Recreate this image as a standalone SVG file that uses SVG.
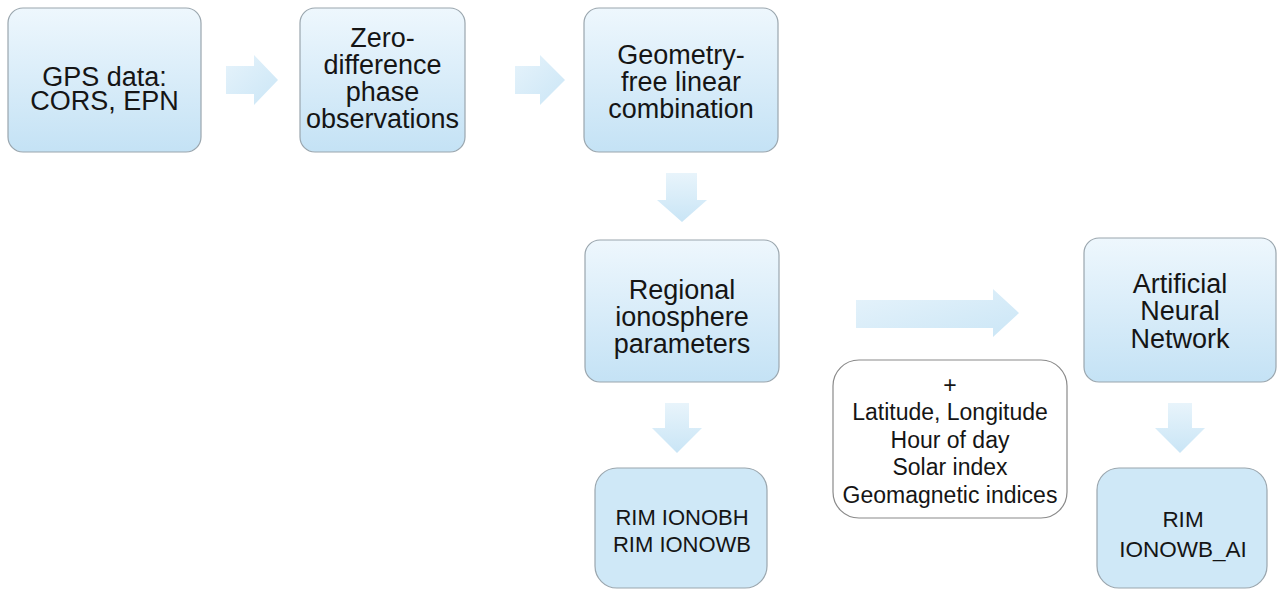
<svg xmlns="http://www.w3.org/2000/svg" width="1277" height="590" viewBox="0 0 1277 590">
  <defs>
    <linearGradient id="gBox" x1="0" y1="0" x2="0" y2="1">
      <stop offset="0" stop-color="#eef7fd"/>
      <stop offset="1" stop-color="#c4e2f5"/>
    </linearGradient>
    <linearGradient id="gArr" x1="0" y1="0" x2="0" y2="1">
      <stop offset="0" stop-color="#e8f4fb"/>
      <stop offset="1" stop-color="#c9e5f6"/>
    </linearGradient>
    <linearGradient id="gArrH" x1="0" y1="0" x2="1" y2="1">
      <stop offset="0" stop-color="#e6f3fb"/>
      <stop offset="1" stop-color="#cbe6f6"/>
    </linearGradient>
    <style>
      .box { fill: url(#gBox); stroke: #9aa6ae; stroke-width: 1.2; }
      .solid { fill: #cfe8f7; stroke: #9aa6ae; stroke-width: 1.2; }
      .white { fill: #ffffff; stroke: #8a8a8a; stroke-width: 1.2; }
      .arr { fill: url(#gArr); stroke: none; }
      .arrh { fill: url(#gArrH); stroke: none; }
      text { font-family: "Liberation Sans", Arial, sans-serif; fill: #151515; text-anchor: middle; }
      .big { font-size: 27px; }
      .mid { font-size: 23px; }
      .sm { font-size: 22px; }
      .sm2 { font-size: 22.5px; }
    </style>
  </defs>

  <g id="connectors">
    <polygon class="arrh" points="226,66 254,66 254,55 278,80 254,105 254,94 226,94"/>
    <polygon class="arrh" points="515,66 540,66 540,55 565,80 540,105 540,94 515,94"/>
    <polygon class="arr" points="666,173 697,173 697,200 707,200 682,222 657,200 666,200"/>
    <polygon class="arr" points="665,403 689,403 689,428 702,428 677,453 652,428 665,428"/>
    <polygon class="arr" points="1168,403 1192,403 1192,428 1205,428 1180,453 1155,428 1168,428"/>
    <polygon class="arrh" points="856,300 993,300 993,289 1019,313 993,337 993,328 856,328"/>
  </g>

  <g id="n-gps">
    <rect class="box" x="8" y="8" width="193" height="144" rx="15"/>
    <text class="big" x="104.5" y="86">GPS data:</text>
    <text class="big" x="104.5" y="110">CORS, EPN</text>
  </g>

  <g id="n-zero">
    <rect class="box" x="300" y="8" width="165" height="144" rx="15"/>
    <text class="big" x="382.5" y="47">Zero-</text>
    <text class="big" x="382.5" y="74">difference</text>
    <text class="big" x="382.5" y="101">phase</text>
    <text class="big" x="382.5" y="128">observations</text>
  </g>

  <g id="n-geom">
    <rect class="box" x="584" y="8" width="194" height="144" rx="15"/>
    <text class="big" x="681" y="64">Geometry-</text>
    <text class="big" x="681" y="91">free linear</text>
    <text class="big" x="681" y="118">combination</text>
  </g>

  <g id="n-regional">
    <rect class="box" x="585" y="240" width="194" height="142" rx="15"/>
    <text class="big" x="682" y="299">Regional</text>
    <text class="big" x="682" y="326">ionosphere</text>
    <text class="big" x="682" y="353">parameters</text>
  </g>

  <g id="n-rim1">
    <rect class="solid" x="595" y="468" width="172" height="120" rx="22"/>
    <text class="sm" x="682" y="525">RIM IONOBH</text>
    <text class="sm" x="682" y="552">RIM IONOWB</text>
  </g>

  <g id="n-inputs">
    <rect class="white" x="833" y="360" width="234" height="158" rx="26"/>
    <text class="mid" x="950" y="393">+</text>
    <text class="mid" x="950" y="420">Latitude, Longitude</text>
    <text class="mid" x="950" y="448">Hour of day</text>
    <text class="mid" x="950" y="475">Solar index</text>
    <text class="mid" x="950" y="503">Geomagnetic indices</text>
  </g>

  <g id="n-ann">
    <rect class="box" x="1084" y="238" width="192" height="144" rx="15"/>
    <text class="big" x="1180" y="293">Artificial</text>
    <text class="big" x="1180" y="320">Neural</text>
    <text class="big" x="1180" y="348">Network</text>
  </g>

  <g id="n-rim2">
    <rect class="solid" x="1097" y="468" width="170" height="120" rx="22"/>
    <text class="sm2" x="1183" y="527">RIM</text>
    <text class="sm2" x="1183" y="557">IONOWB_AI</text>
  </g>
</svg>
